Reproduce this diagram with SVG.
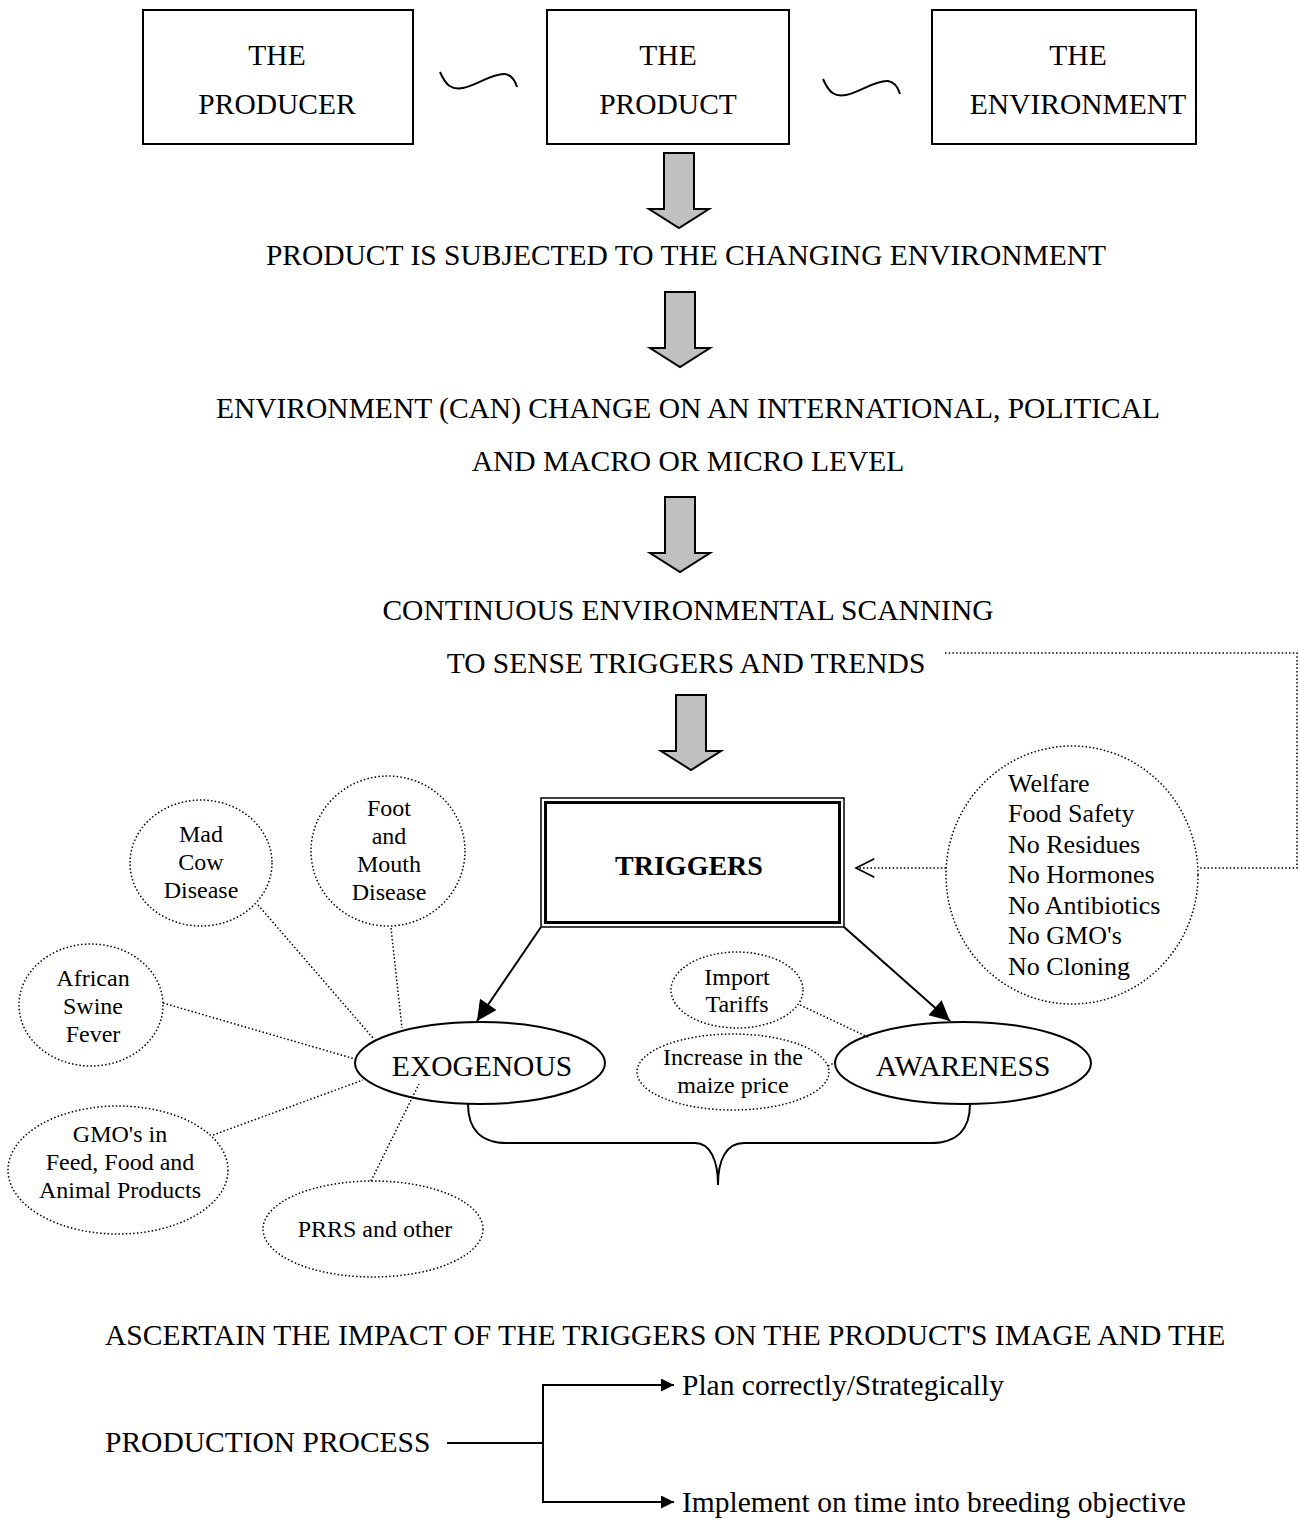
<svg xmlns="http://www.w3.org/2000/svg" width="1300" height="1537" viewBox="0 0 1300 1537">
<defs>
<style>
text{font-family:"Liberation Serif","Times New Roman",serif;fill:#000}
.t29{font-size:29.5px}
.t26{font-size:26px}
.t24{font-size:24px}
.c{text-anchor:middle}
.box{fill:#fff;stroke:#000;stroke-width:2}
.garrow{fill:#c0c0c0;stroke:#000;stroke-width:2;stroke-linejoin:miter}
.dot{fill:none;stroke:#000;stroke-width:1.5;stroke-dasharray:1.5 2.2}
.solid{fill:none;stroke:#000;stroke-width:2}
</style>
<marker id="ah" viewBox="0 0 10 10" refX="10" refY="5" markerWidth="14" markerHeight="13" markerUnits="userSpaceOnUse" orient="auto">
<path d="M0,0 L10,5 L0,10 z" fill="#000"/>
</marker>
<marker id="ahBig" viewBox="0 0 10 10" refX="10" refY="5" markerWidth="24" markerHeight="20" markerUnits="userSpaceOnUse" orient="auto">
<path d="M0,0 L10,5 L0,10 z" fill="#000"/>
</marker>
<marker id="ahOpen" viewBox="0 0 12 12" refX="11" refY="6" markerWidth="22" markerHeight="22" markerUnits="userSpaceOnUse" orient="auto">
<path d="M1,1 L11,6 L1,11" fill="none" stroke="#000" stroke-width="0.9"/>
</marker>
</defs>
<rect width="1300" height="1537" fill="#fff"/>

<g id="producer">
<rect class="box" x="143" y="10" width="270" height="134"/>
<text class="t29 c" x="277" y="65">THE</text>
<text class="t29 c" x="277" y="114">PRODUCER</text>
</g>
<g id="product">
<rect class="box" x="547" y="10" width="242" height="134"/>
<text class="t29 c" x="668" y="65">THE</text>
<text class="t29 c" x="668" y="114">PRODUCT</text>
</g>
<g id="environment">
<rect class="box" x="932" y="10" width="264" height="134"/>
<text class="t29 c" x="1078" y="65">THE</text>
<text class="t29 c" x="1078" y="114">ENVIRONMENT</text>
</g>

<g id="step1">
<text class="t29 c" x="686" y="265">PRODUCT IS SUBJECTED TO THE CHANGING ENVIRONMENT</text>
</g>
<g id="step2">
<text class="t29 c" x="688" y="418">ENVIRONMENT (CAN) CHANGE ON AN INTERNATIONAL, POLITICAL</text>
<text class="t29 c" x="688" y="471">AND MACRO OR MICRO LEVEL</text>
</g>
<g id="step3">
<text class="t29 c" x="688" y="620">CONTINUOUS ENVIRONMENTAL SCANNING</text>
<text class="t29 c" x="686" y="673">TO SENSE TRIGGERS AND TRENDS</text>
</g>

<g id="triggers">
<rect x="541" y="798" width="303" height="129" fill="#fff" stroke="#000" stroke-width="1.5"/>
<rect x="545.5" y="802.5" width="294" height="120" fill="none" stroke="#000" stroke-width="3"/>
<text class="c" x="689" y="875" font-size="28" font-weight="bold">TRIGGERS</text>
</g>

<g id="trends">
<ellipse class="dot" cx="1072" cy="875" rx="126" ry="129"/>
<text class="t26" x="1008" y="792">Welfare</text>
<text class="t26" x="1008" y="822">Food Safety</text>
<text class="t26" x="1008" y="853">No Residues</text>
<text class="t26" x="1008" y="883">No Hormones</text>
<text class="t26" x="1008" y="914">No Antibiotics</text>
<text class="t26" x="1008" y="944">No GMO's</text>
<text class="t26" x="1008" y="975">No Cloning</text>
</g>

<g id="exogenous">
<ellipse class="solid" cx="480" cy="1063" rx="125" ry="41" fill="#fff"/>
<text class="t29 c" x="482" y="1076">EXOGENOUS</text>
</g>
<g id="awareness">
<ellipse class="solid" cx="963" cy="1063" rx="128" ry="41"/>
<text class="t29 c" x="963" y="1076">AWARENESS</text>
</g>

<g id="madcow">
<ellipse class="dot" cx="201" cy="863" rx="71" ry="63"/>
<text class="t24 c" x="201" y="842">Mad</text>
<text class="t24 c" x="201" y="870">Cow</text>
<text class="t24 c" x="201" y="898">Disease</text>
</g>
<g id="footmouth">
<ellipse class="dot" cx="388" cy="851" rx="77" ry="75"/>
<text class="t24 c" x="389" y="816">Foot</text>
<text class="t24 c" x="389" y="844">and</text>
<text class="t24 c" x="389" y="872">Mouth</text>
<text class="t24 c" x="389" y="900">Disease</text>
</g>
<g id="african">
<ellipse class="dot" cx="91" cy="1005" rx="72" ry="61"/>
<text class="t24 c" x="93" y="986">African</text>
<text class="t24 c" x="93" y="1014">Swine</text>
<text class="t24 c" x="93" y="1042">Fever</text>
</g>
<g id="gmo">
<ellipse class="dot" cx="118" cy="1170" rx="110" ry="64"/>
<text class="t24 c" x="120" y="1142">GMO's in</text>
<text class="t24 c" x="120" y="1170">Feed, Food and</text>
<text class="t24 c" x="120" y="1198">Animal Products</text>
</g>
<g id="prrs">
<ellipse class="dot" cx="373" cy="1229" rx="110" ry="48"/>
<text class="t24 c" x="375" y="1237">PRRS and other</text>
</g>
<g id="tariffs">
<ellipse class="dot" cx="737" cy="990" rx="66" ry="38"/>
<text class="t24 c" x="737" y="985">Import</text>
<text class="t24 c" x="737" y="1012">Tariffs</text>
</g>
<g id="maize">
<ellipse class="dot" cx="733" cy="1072" rx="96" ry="38"/>
<text class="t24 c" x="733" y="1065">Increase in the</text>
<text class="t24 c" x="733" y="1093">maize price</text>
</g>

<g id="bottom-text">
<text class="t29" x="105" y="1345">ASCERTAIN THE IMPACT OF THE TRIGGERS ON THE PRODUCT'S IMAGE AND THE</text>
<text class="t29" x="105" y="1452">PRODUCTION PROCESS</text>
<text class="t29" x="682" y="1395">Plan correctly/Strategically</text>
<text class="t29" x="682" y="1512">Implement on time into breeding objective</text>
</g>

<g id="connectors">
<path class="solid" d="M440,72 C446,86 452,90 463,88 C478,85 492,73 505,74 C511,75 515,80 517,87"/>
<path class="solid" d="M823,79 C829,93 835,97 846,95 C861,92 875,80 888,81 C894,82 898,87 900,94"/>
<polygon class="garrow" points="664,153 694,153 694,209 709,209 679,228 649,209 664,209"/>
<polygon class="garrow" points="665,292 695,292 695,348 710,348 680,367 650,348 665,348"/>
<polygon class="garrow" points="665,497 695,497 695,553 710,553 680,572 650,553 665,553"/>
<polygon class="garrow" points="676,695 706,695 706,751 721,751 691,770 661,751 676,751"/>
<path class="dot" d="M945,653 L1297,653 L1297,868 L1198,868"/>
<line class="dot" x1="946" y1="868" x2="856" y2="868" marker-end="url(#ahOpen)"/>
<line class="solid" x1="541" y1="927" x2="477" y2="1021" marker-end="url(#ahBig)"/>
<line class="solid" x1="844" y1="927" x2="950" y2="1021" marker-end="url(#ahBig)"/>
<line class="dot" x1="258" y1="905" x2="373" y2="1038"/>
<line class="dot" x1="391" y1="928" x2="402" y2="1028"/>
<line class="dot" x1="163" y1="1003" x2="355" y2="1059"/>
<line class="dot" x1="213" y1="1135" x2="363" y2="1080"/>
<line class="dot" x1="371" y1="1181" x2="419" y2="1084"/>
<line class="dot" x1="800" y1="1005" x2="870" y2="1038"/>
<line class="dot" x1="828" y1="1066" x2="836" y2="1062"/>
<path class="solid" d="M468,1104 C468,1128 480,1143 507,1143 L695,1143 C710,1143 718,1160 718,1185 C718,1160 726,1143 744,1143 L931,1143 C958,1143 970,1128 970,1104"/>
<line class="solid" x1="447" y1="1443" x2="543" y2="1443"/>
<path class="solid" d="M543,1385 L543,1503"/>
<line class="solid" x1="542" y1="1385" x2="674" y2="1385" marker-end="url(#ah)"/>
<line class="solid" x1="542" y1="1502" x2="674" y2="1502" marker-end="url(#ah)"/>
</g>
</svg>
